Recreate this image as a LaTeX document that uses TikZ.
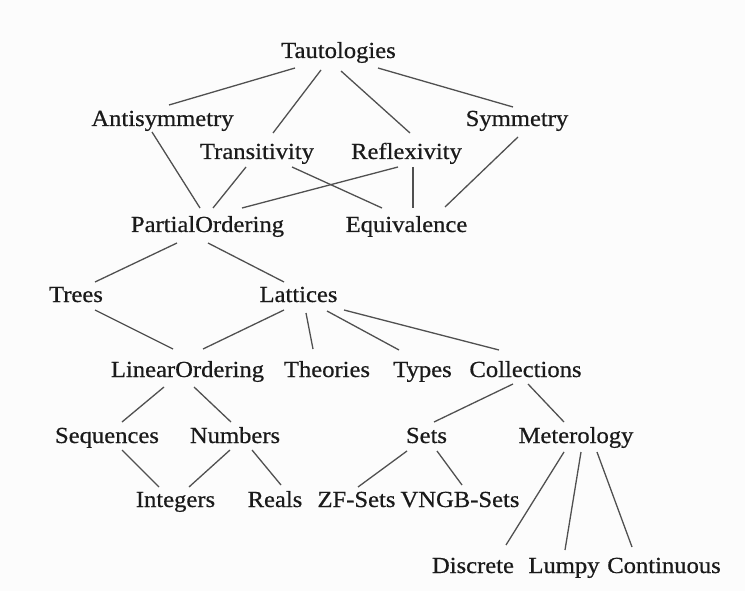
\documentclass[tikz,border=0pt]{standalone}
\usepackage{fontspec}
\setmainfont{Liberation Serif}[FakeBold=0.6,FakeStretch=1.07]
\usetikzlibrary{calc}
\definecolor{ink}{HTML}{1A1A1A}
\definecolor{edgec}{HTML}{505050}
\definecolor{paper}{HTML}{FCFCFC}
\begin{document}
\begin{tikzpicture}[x=1pt,y=-1pt,
  lbl/.style={anchor=base, inner sep=0pt, font=\fontsize{23}{26}\selectfont, text=ink},
  link/.style={draw=edgec, line width=1.3pt}]
\fill[paper] (0,0) rectangle (745,591);
\useasboundingbox (0,0) rectangle (745,591);
% nodes
\node[lbl] (taut)  at (338.5,58)  {Tautologies};
\node[lbl] (anti)  at (162.5,126) {Antisymmetry};
\node[lbl] (sym)   at (517,126)   {Symmetry};
\node[lbl] (trans) at (257,159)   {Transitivity};
\node[lbl] (refl)  at (406.5,159) {Reflexivity};
\node[lbl] (po)    at (207.5,232) {PartialOrdering};
\node[lbl] (equiv) at (406.5,232) {Equivalence};
\node[lbl] (trees) at (76,302)    {Trees};
\node[lbl] (lat)   at (298.5,302) {Lattices};
\node[lbl] (lin)   at (187.5,377) {LinearOrdering};
\node[lbl] (theo)  at (327,377)   {Theories};
\node[lbl] (types) at (422.5,377) {Types};
\node[lbl] (coll)  at (525.5,377) {Collections};
\node[lbl] (seq)   at (107,443)   {Sequences};
\node[lbl] (num)   at (235,443)   {Numbers};
\node[lbl] (sets)  at (426.5,443) {Sets};
\node[lbl] (met)   at (576,443)   {Meterology};
\node[lbl] (int)   at (175.5,507) {Integers};
\node[lbl] (reals) at (275,507)   {Reals};
\node[lbl] (zf)    at (356.5,507) {ZF-Sets};
\node[lbl] (vngb)  at (460,507)   {VNGB-Sets};
\node[lbl] (disc)  at (473,573)   {Discrete};
\node[lbl] (lumpy) at (564,573)   {Lumpy};
\node[lbl] (cont)  at (664,573)   {Continuous};
% connectors
\draw[link] ($(taut.base)+(-43.5,10)$) -- ($(anti.base)+(6.5,-21)$);
\draw[link] ($(taut.base)+(-17.5,12)$) -- ($(trans.base)+(16,-26)$);
\draw[link] ($(taut.base)+(2.5,13)$) -- ($(refl.base)+(3.5,-26)$);
\draw[link] ($(taut.base)+(39.5,10)$) -- ($(sym.base)+(-4,-19)$);
\draw[link] ($(anti.base)+(-10.5,6)$) -- ($(po.base)+(-7.5,-24)$);
\draw[link] ($(trans.base)+(-11,8)$) -- ($(po.base)+(5.5,-24)$);
\draw[link] ($(trans.base)+(35,8)$) -- ($(equiv.base)+(-24.5,-24)$);
\draw[link] ($(refl.base)+(-8.5,8)$) -- ($(po.base)+(34.5,-24)$);
\draw[link] ($(refl.base)+(6.5,8)$) -- ($(equiv.base)+(6.5,-24)$);
\draw[link] ($(sym.base)+(1,11)$) -- ($(equiv.base)+(38.5,-25)$);
\draw[link] ($(po.base)+(-30.5,11)$) -- ($(trees.base)+(19,-20)$);
\draw[link] ($(po.base)+(0.5,11)$) -- ($(lat.base)+(-14.5,-20)$);
\draw[link] ($(trees.base)+(19,8)$) -- ($(lin.base)+(-14.5,-28)$);
\draw[link] ($(lat.base)+(-14.5,8)$) -- ($(lin.base)+(15.5,-28)$);
\draw[link] ($(lat.base)+(7.5,11)$) -- ($(theo.base)+(-14,-28)$);
\draw[link] ($(lat.base)+(28.5,9)$) -- ($(types.base)+(-23.5,-27)$);
\draw[link] ($(lat.base)+(45.5,8)$) -- ($(coll.base)+(-26.5,-27)$);
\draw[link] ($(lin.base)+(-23.5,10)$) -- ($(seq.base)+(15,-21)$);
\draw[link] ($(lin.base)+(6.5,10)$) -- ($(num.base)+(-4,-21)$);
\draw[link] ($(coll.base)+(-12.5,7)$) -- ($(sets.base)+(7.5,-21)$);
\draw[link] ($(coll.base)+(2.5,7)$) -- ($(met.base)+(-12,-21)$);
\draw[link] ($(seq.base)+(15,7)$) -- ($(int.base)+(-16.5,-20)$);
\draw[link] ($(num.base)+(-5,7)$) -- ($(int.base)+(13.5,-20)$);
\draw[link] ($(num.base)+(17,7)$) -- ($(reals.base)+(6,-22)$);
\draw[link] ($(sets.base)+(-19.5,8)$) -- ($(zf.base)+(1.5,-20)$);
\draw[link] ($(sets.base)+(10.5,8)$) -- ($(vngb.base)+(2,-22)$);
\draw[link] ($(met.base)+(-12,9)$) -- ($(disc.base)+(33,-28)$);
\draw[link] ($(met.base)+(5,9)$) -- ($(lumpy.base)+(1,-23)$);
\draw[link] ($(met.base)+(21,9)$) -- ($(cont.base)+(-32,-26)$);
\end{tikzpicture}
\end{document}
